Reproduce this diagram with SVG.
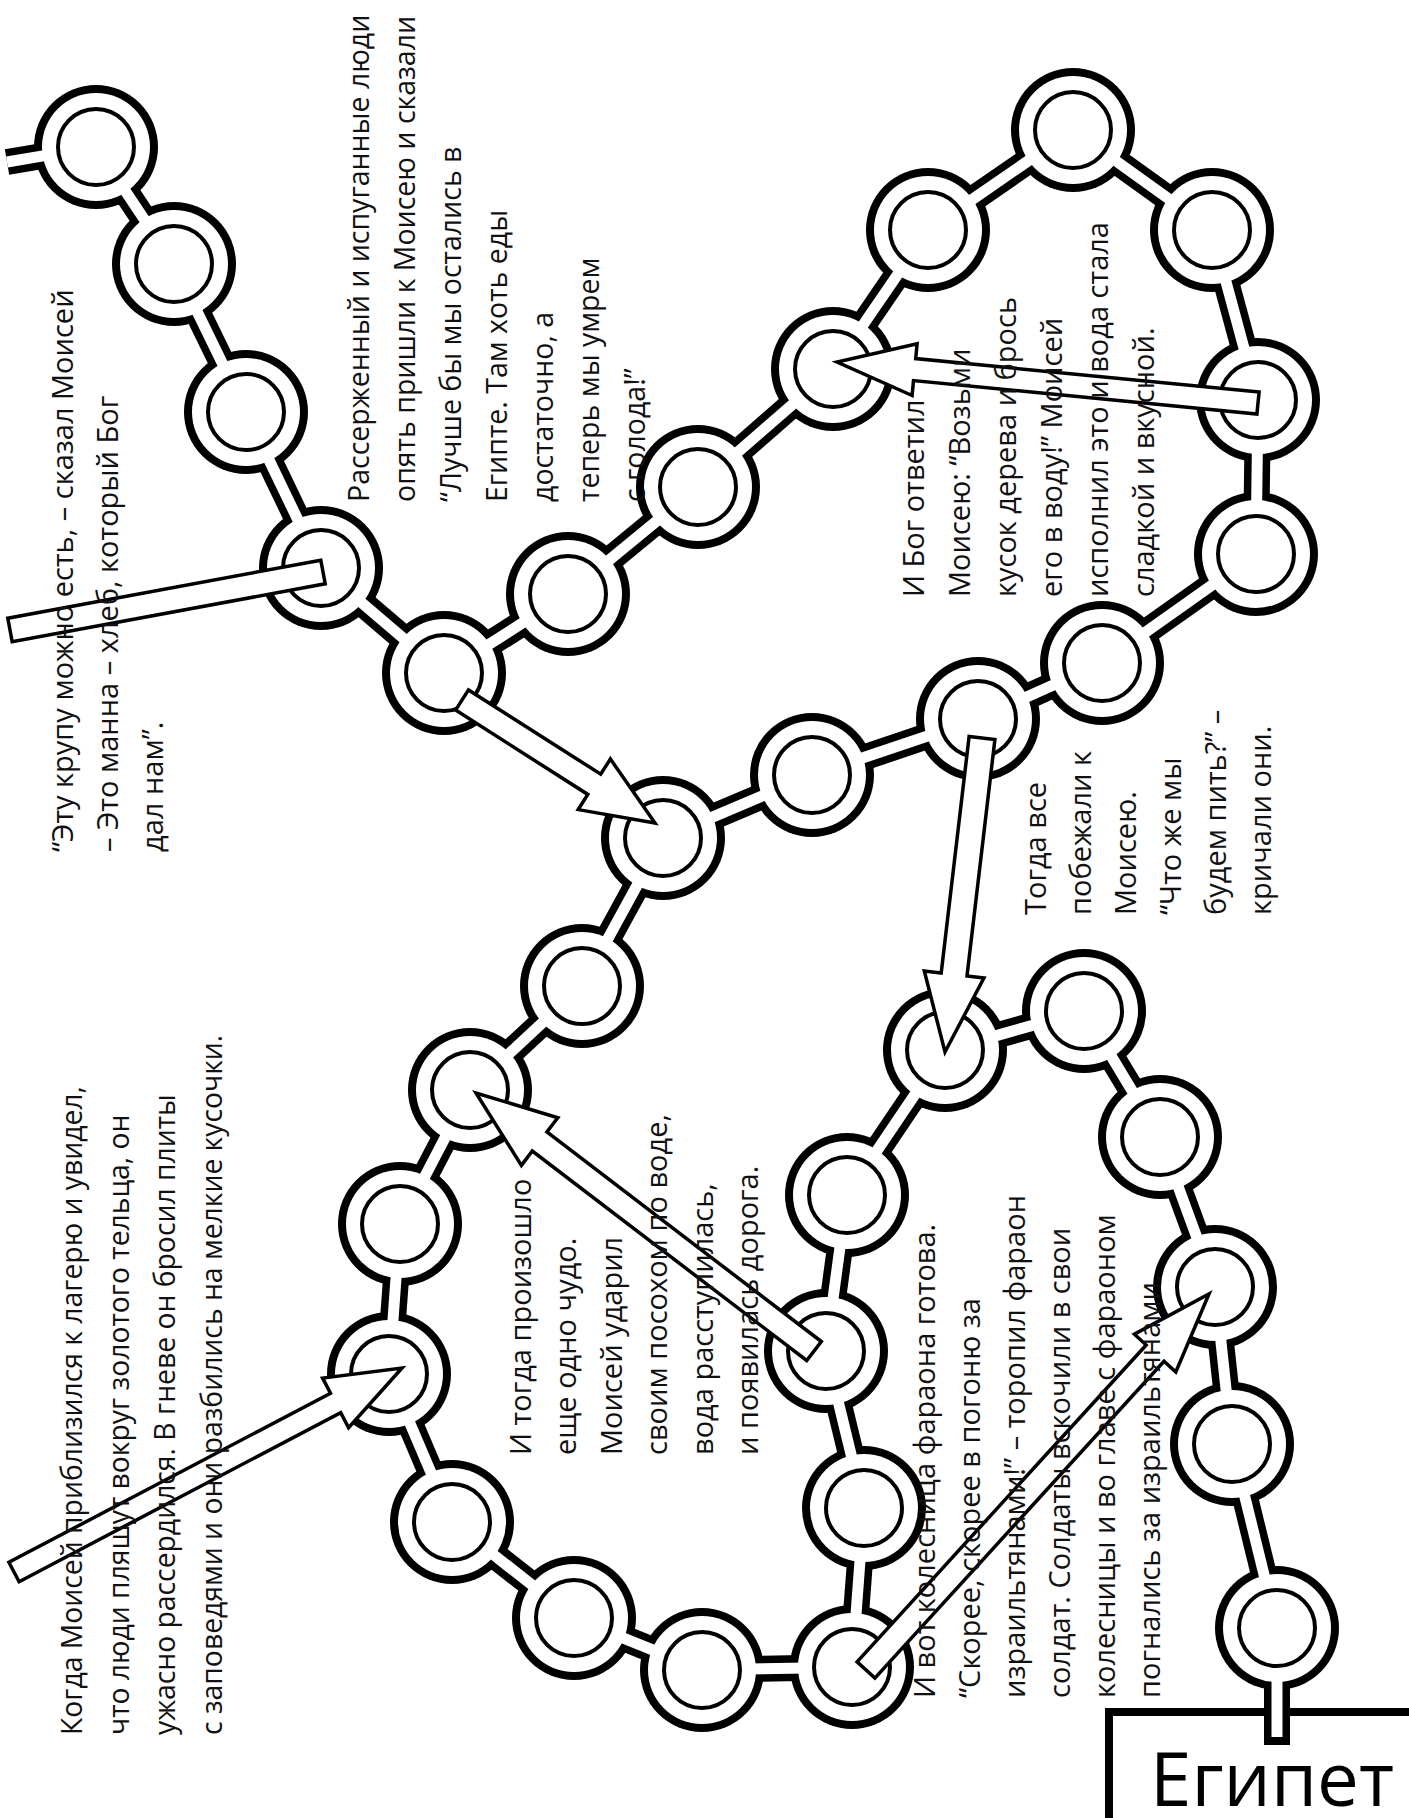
<svg xmlns="http://www.w3.org/2000/svg" width="1409" height="1818" viewBox="0 0 1409 1818">
<defs>
<style>
.po{stroke:#000;stroke-width:26;fill:none}
.pi{stroke:#fff;stroke-width:11;fill:none}
.ob{fill:#000}
.ow{fill:#fff}
.in{fill:#fff;stroke:#000;stroke-width:4}
.ar{fill:#fff;stroke:#000;stroke-width:3.5;stroke-linejoin:miter}
.t{font-family:"Open Sans","DejaVu Sans",sans-serif;font-size:29px;fill:#111}
.t1{font-size:28.5px}
.t5{font-size:28.3px}
.eg{font-family:"Open Sans","DejaVu Sans",sans-serif;font-size:75px;fill:#000}
</style>
</defs>
<rect width="1409" height="1818" fill="#fff"/>
<g id="egypt">
<path d="M1109,1818 V1712 H1409" fill="none" stroke="#000" stroke-width="8"/>
<text class="eg" x="1150" y="1806" textLength="244" lengthAdjust="spacingAndGlyphs">Египет</text>
</g>
<g id="connectors">
<line class="po" x1="7" y1="162" x2="96" y2="147"/>
<line class="po" x1="96" y1="147" x2="174" y2="264"/>
<line class="po" x1="174" y1="264" x2="246" y2="412"/>
<line class="po" x1="246" y1="412" x2="321" y2="568"/>
<line class="po" x1="321" y1="568" x2="444" y2="673"/>
<line class="po" x1="444" y1="673" x2="568" y2="594"/>
<line class="po" x1="568" y1="594" x2="698" y2="487"/>
<line class="po" x1="698" y1="487" x2="833" y2="369"/>
<line class="po" x1="833" y1="369" x2="928" y2="230"/>
<line class="po" x1="928" y1="230" x2="1073" y2="130"/>
<line class="po" x1="1073" y1="130" x2="1212" y2="230"/>
<line class="po" x1="1212" y1="230" x2="1258" y2="400"/>
<line class="po" x1="1258" y1="400" x2="1256" y2="554"/>
<line class="po" x1="1256" y1="554" x2="1102" y2="663"/>
<line class="po" x1="1102" y1="663" x2="978" y2="719"/>
<line class="po" x1="978" y1="719" x2="812" y2="775"/>
<line class="po" x1="812" y1="775" x2="663" y2="838"/>
<line class="po" x1="663" y1="838" x2="582" y2="986"/>
<line class="po" x1="582" y1="986" x2="470" y2="1090"/>
<line class="po" x1="470" y1="1090" x2="400" y2="1224"/>
<line class="po" x1="400" y1="1224" x2="389" y2="1374"/>
<line class="po" x1="389" y1="1374" x2="452" y2="1522"/>
<line class="po" x1="452" y1="1522" x2="574" y2="1618"/>
<line class="po" x1="574" y1="1618" x2="702" y2="1670"/>
<line class="po" x1="702" y1="1670" x2="852" y2="1667"/>
<line class="po" x1="852" y1="1667" x2="864" y2="1508"/>
<line class="po" x1="864" y1="1508" x2="826" y2="1351"/>
<line class="po" x1="826" y1="1351" x2="847" y2="1195"/>
<line class="po" x1="847" y1="1195" x2="945" y2="1050"/>
<line class="po" x1="945" y1="1050" x2="1084" y2="1011"/>
<line class="po" x1="1084" y1="1011" x2="1160" y2="1137"/>
<line class="po" x1="1160" y1="1137" x2="1215" y2="1287"/>
<line class="po" x1="1215" y1="1287" x2="1232" y2="1444"/>
<line class="po" x1="1232" y1="1444" x2="1277" y2="1628"/>
<line class="po" x1="1277" y1="1628" x2="1277" y2="1745"/>
</g>
<g id="nodes">
<g id="n1"><circle class="ob" cx="96" cy="147" r="62"/><circle class="ow" cx="96" cy="147" r="54"/><circle class="in" cx="96" cy="147" r="38"/></g>
<g id="n2"><circle class="ob" cx="174" cy="264" r="62"/><circle class="ow" cx="174" cy="264" r="54"/><circle class="in" cx="174" cy="264" r="38"/></g>
<g id="n3"><circle class="ob" cx="246" cy="412" r="62"/><circle class="ow" cx="246" cy="412" r="54"/><circle class="in" cx="246" cy="412" r="38"/></g>
<g id="n4"><circle class="ob" cx="321" cy="568" r="62"/><circle class="ow" cx="321" cy="568" r="54"/><circle class="in" cx="321" cy="568" r="38"/></g>
<g id="n5"><circle class="ob" cx="444" cy="673" r="62"/><circle class="ow" cx="444" cy="673" r="54"/><circle class="in" cx="444" cy="673" r="38"/></g>
<g id="n6"><circle class="ob" cx="663" cy="838" r="62"/><circle class="ow" cx="663" cy="838" r="54"/><circle class="in" cx="663" cy="838" r="38"/></g>
<g id="u1"><circle class="ob" cx="568" cy="594" r="62"/><circle class="ow" cx="568" cy="594" r="54"/><circle class="in" cx="568" cy="594" r="38"/></g>
<g id="u2"><circle class="ob" cx="698" cy="487" r="62"/><circle class="ow" cx="698" cy="487" r="54"/><circle class="in" cx="698" cy="487" r="38"/></g>
<g id="u3"><circle class="ob" cx="833" cy="369" r="62"/><circle class="ow" cx="833" cy="369" r="54"/><circle class="in" cx="833" cy="369" r="38"/></g>
<g id="u4"><circle class="ob" cx="928" cy="230" r="62"/><circle class="ow" cx="928" cy="230" r="54"/><circle class="in" cx="928" cy="230" r="38"/></g>
<g id="u5"><circle class="ob" cx="1073" cy="130" r="62"/><circle class="ow" cx="1073" cy="130" r="54"/><circle class="in" cx="1073" cy="130" r="38"/></g>
<g id="u6"><circle class="ob" cx="1212" cy="230" r="62"/><circle class="ow" cx="1212" cy="230" r="54"/><circle class="in" cx="1212" cy="230" r="38"/></g>
<g id="u7"><circle class="ob" cx="1258" cy="400" r="62"/><circle class="ow" cx="1258" cy="400" r="54"/><circle class="in" cx="1258" cy="400" r="38"/></g>
<g id="u8"><circle class="ob" cx="1256" cy="554" r="62"/><circle class="ow" cx="1256" cy="554" r="54"/><circle class="in" cx="1256" cy="554" r="38"/></g>
<g id="u9"><circle class="ob" cx="1102" cy="663" r="62"/><circle class="ow" cx="1102" cy="663" r="54"/><circle class="in" cx="1102" cy="663" r="38"/></g>
<g id="r1"><circle class="ob" cx="978" cy="719" r="62"/><circle class="ow" cx="978" cy="719" r="54"/><circle class="in" cx="978" cy="719" r="38"/></g>
<g id="r2"><circle class="ob" cx="812" cy="775" r="62"/><circle class="ow" cx="812" cy="775" r="54"/><circle class="in" cx="812" cy="775" r="38"/></g>
<g id="l1"><circle class="ob" cx="582" cy="986" r="62"/><circle class="ow" cx="582" cy="986" r="54"/><circle class="in" cx="582" cy="986" r="38"/></g>
<g id="l2"><circle class="ob" cx="470" cy="1090" r="62"/><circle class="ow" cx="470" cy="1090" r="54"/><circle class="in" cx="470" cy="1090" r="38"/></g>
<g id="l3"><circle class="ob" cx="400" cy="1224" r="62"/><circle class="ow" cx="400" cy="1224" r="54"/><circle class="in" cx="400" cy="1224" r="38"/></g>
<g id="l4"><circle class="ob" cx="389" cy="1374" r="62"/><circle class="ow" cx="389" cy="1374" r="54"/><circle class="in" cx="389" cy="1374" r="38"/></g>
<g id="l5"><circle class="ob" cx="452" cy="1522" r="62"/><circle class="ow" cx="452" cy="1522" r="54"/><circle class="in" cx="452" cy="1522" r="38"/></g>
<g id="l6"><circle class="ob" cx="574" cy="1618" r="62"/><circle class="ow" cx="574" cy="1618" r="54"/><circle class="in" cx="574" cy="1618" r="38"/></g>
<g id="l7"><circle class="ob" cx="702" cy="1670" r="62"/><circle class="ow" cx="702" cy="1670" r="54"/><circle class="in" cx="702" cy="1670" r="38"/></g>
<g id="l8"><circle class="ob" cx="852" cy="1667" r="62"/><circle class="ow" cx="852" cy="1667" r="54"/><circle class="in" cx="852" cy="1667" r="38"/></g>
<g id="l9"><circle class="ob" cx="864" cy="1508" r="62"/><circle class="ow" cx="864" cy="1508" r="54"/><circle class="in" cx="864" cy="1508" r="38"/></g>
<g id="l10"><circle class="ob" cx="826" cy="1351" r="62"/><circle class="ow" cx="826" cy="1351" r="54"/><circle class="in" cx="826" cy="1351" r="38"/></g>
<g id="l11"><circle class="ob" cx="847" cy="1195" r="62"/><circle class="ow" cx="847" cy="1195" r="54"/><circle class="in" cx="847" cy="1195" r="38"/></g>
<g id="l12"><circle class="ob" cx="945" cy="1050" r="62"/><circle class="ow" cx="945" cy="1050" r="54"/><circle class="in" cx="945" cy="1050" r="38"/></g>
<g id="l13"><circle class="ob" cx="1084" cy="1011" r="62"/><circle class="ow" cx="1084" cy="1011" r="54"/><circle class="in" cx="1084" cy="1011" r="38"/></g>
<g id="l14"><circle class="ob" cx="1160" cy="1137" r="62"/><circle class="ow" cx="1160" cy="1137" r="54"/><circle class="in" cx="1160" cy="1137" r="38"/></g>
<g id="l15"><circle class="ob" cx="1215" cy="1287" r="62"/><circle class="ow" cx="1215" cy="1287" r="54"/><circle class="in" cx="1215" cy="1287" r="38"/></g>
<g id="l16"><circle class="ob" cx="1232" cy="1444" r="62"/><circle class="ow" cx="1232" cy="1444" r="54"/><circle class="in" cx="1232" cy="1444" r="38"/></g>
<g id="l17"><circle class="ob" cx="1277" cy="1628" r="62"/><circle class="ow" cx="1277" cy="1628" r="54"/><circle class="in" cx="1277" cy="1628" r="38"/></g>
</g>
<g id="connector-channels">
<line class="pi" x1="7" y1="162" x2="50.6" y2="154.6"/>
<line class="pi" x1="121.5" y1="185.3" x2="148.5" y2="225.7"/>
<line class="pi" x1="194.1" y1="305.4" x2="225.9" y2="370.6"/>
<line class="pi" x1="265.9" y1="453.5" x2="301.1" y2="526.5"/>
<line class="pi" x1="356" y1="597.9" x2="409" y2="643.1"/>
<line class="pi" x1="482.8" y1="648.3" x2="529.2" y2="618.7"/>
<line class="pi" x1="603.5" y1="564.8" x2="662.5" y2="516.2"/>
<line class="pi" x1="732.6" y1="456.7" x2="798.4" y2="399.3"/>
<line class="pi" x1="858.9" y1="331" x2="902.1" y2="268"/>
<line class="pi" x1="965.9" y1="203.9" x2="1035.1" y2="156.1"/>
<line class="pi" x1="1110.3" y1="156.9" x2="1174.7" y2="203.1"/>
<line class="pi" x1="1224" y1="274.4" x2="1246" y2="355.6"/>
<line class="pi" x1="1257.4" y1="446" x2="1256.6" y2="508"/>
<line class="pi" x1="1218.5" y1="580.6" x2="1139.5" y2="636.4"/>
<line class="pi" x1="1060.1" y1="681.9" x2="1019.9" y2="700.1"/>
<line class="pi" x1="934.4" y1="733.7" x2="855.6" y2="760.3"/>
<line class="pi" x1="769.6" y1="792.9" x2="705.4" y2="820.1"/>
<line class="pi" x1="640.9" y1="878.4" x2="604.1" y2="945.6"/>
<line class="pi" x1="548.3" y1="1017.3" x2="503.7" y2="1058.7"/>
<line class="pi" x1="448.7" y1="1130.8" x2="421.3" y2="1183.2"/>
<line class="pi" x1="396.6" y1="1269.9" x2="392.4" y2="1328.1"/>
<line class="pi" x1="407" y1="1416.3" x2="434" y2="1479.7"/>
<line class="pi" x1="488.2" y1="1550.5" x2="537.8" y2="1589.5"/>
<line class="pi" x1="616.6" y1="1635.3" x2="659.4" y2="1652.7"/>
<line class="pi" x1="748" y1="1669.1" x2="806" y2="1667.9"/>
<line class="pi" x1="855.5" y1="1621.1" x2="860.5" y2="1553.9"/>
<line class="pi" x1="853.2" y1="1463.3" x2="836.8" y2="1395.7"/>
<line class="pi" x1="832.1" y1="1305.4" x2="840.9" y2="1240.6"/>
<line class="pi" x1="872.8" y1="1156.9" x2="919.2" y2="1088.1"/>
<line class="pi" x1="989.3" y1="1037.6" x2="1039.7" y2="1023.4"/>
<line class="pi" x1="1107.8" y1="1050.4" x2="1136.2" y2="1097.6"/>
<line class="pi" x1="1175.8" y1="1180.2" x2="1199.2" y2="1243.8"/>
<line class="pi" x1="1220" y1="1332.7" x2="1227" y2="1398.3"/>
<line class="pi" x1="1242.9" y1="1488.7" x2="1266.1" y2="1583.3"/>
<line class="pi" x1="1277" y1="1674" x2="1277" y2="1737"/>
</g>
<g id="arrows">
<polygon class="ar" points="320.8,560.2 7.8,618.2 12.2,641.8 325.2,583.8"/>
<polygon class="ar" points="455.6,710.1 587.8,794.4 578.2,809.6 655,823 610.4,759 600.7,774.2 468.5,689.9"/>
<polygon class="ar" points="1259.1,392.1 915.7,358.6 917.1,343.7 837,362 912.1,395.5 913.5,380.6 1256.9,414"/>
<polygon class="ar" points="969.1,736.5 941.2,973 924.3,971 945,1052 983.9,978 967,976 994.9,739.5"/>
<polygon class="ar" points="821.3,1341.5 546.9,1132 557.8,1117.7 476,1093 521.4,1165.4 532.3,1151 806.7,1360.5"/>
<polygon class="ar" points="19.1,1581.7 340.7,1412.6 348.6,1427.7 402,1368 322.6,1378.1 330.5,1393.2 8.9,1562.3"/>
<polygon class="ar" points="874.9,1678.1 1164,1361.2 1175.8,1372 1209,1294 1134.4,1334.2 1146.2,1345 857.1,1661.9"/>
</g>
<g id="texts" transform="rotate(-90)">
<g id="t1" class="t t1">
<text x="-502" y="369">Рассерженный и испуганные люди</text>
<text x="-502" y="415">опять пришли к Моисею и сказали</text>
<text x="-502" y="461">“Лучше бы мы остались в</text>
<text x="-502" y="507">Египте. Там хоть еды</text>
<text x="-502" y="553">достаточно, а</text>
<text x="-502" y="599">теперь мы умрем</text>
<text x="-502" y="645">с голода!”</text>
</g>
<g id="t2" class="t">
<text x="-852" y="73">“Эту крупу можно есть, – сказал Моисей</text>
<text x="-852" y="118">– Это манна – хлеб, который Бог</text>
<text x="-852" y="163">дал нам”.</text>
</g>
<g id="t3" class="t">
<text x="-597" y="924">И Бог ответил</text>
<text x="-597" y="970">Моисею: “Возьми</text>
<text x="-597" y="1016">кусок дерева и брось</text>
<text x="-597" y="1062">его в воду!” Моисей</text>
<text x="-597" y="1108">исполнил это и вода стала</text>
<text x="-597" y="1154">сладкой и вкусной.</text>
</g>
<g id="t4" class="t">
<text x="-915" y="1046">Тогда все</text>
<text x="-915" y="1091">побежали к</text>
<text x="-915" y="1136">Моисею.</text>
<text x="-915" y="1181">“Что же мы</text>
<text x="-915" y="1226">будем пить?” –</text>
<text x="-915" y="1271">кричали они.</text>
</g>
<g id="t5" class="t t5">
<text x="-1735" y="82">Когда Моисей приблизился к лагерю и увидел,</text>
<text x="-1735" y="129">что люди пляшут вокруг золотого тельца, он</text>
<text x="-1735" y="175">ужасно рассердился. В гневе он бросил плиты</text>
<text x="-1735" y="222">с заповедями и они разбились на мелкие кусочки.</text>
</g>
<g id="t6" class="t">
<text x="-1455" y="531">И тогда произошло</text>
<text x="-1455" y="576">еще одно чудо.</text>
<text x="-1455" y="622">Моисей ударил</text>
<text x="-1455" y="667">своим посохом по воде,</text>
<text x="-1455" y="713">вода расступилась,</text>
<text x="-1455" y="758">и появилась дорога.</text>
</g>
<g id="t7" class="t">
<text x="-1698" y="935">И вот колесница фараона готова.</text>
<text x="-1698" y="980">“Скорее, скорее в погоню за</text>
<text x="-1698" y="1025">израильтянами!” – торопил фараон</text>
<text x="-1698" y="1070">солдат. Солдаты вскочили в свои</text>
<text x="-1698" y="1115">колесницы и во главе с фараоном</text>
<text x="-1698" y="1160">погнались за израильтянами.</text>
</g>
</g>
</svg>
